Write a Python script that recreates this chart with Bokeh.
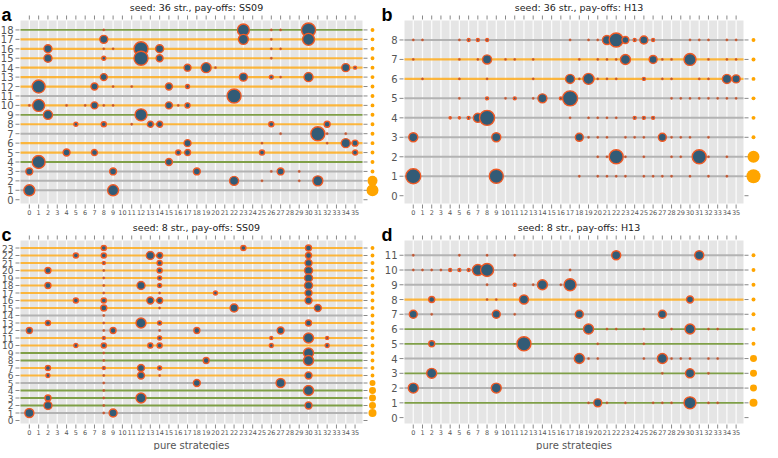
import math
from bokeh.plotting import figure
from bokeh.layouts import gridplot
from bokeh.models import Range1d
from bokeh.core.properties import value
from bokeh.embed import file_html
from bokeh.resources import INLINE

strategies = list(range(36))

# ---------------- panel a ----------------
a_title = "seed: 36 str., pay-offs: SS09"
a_nrows = 18
a_line_rows = list(range(1, 19))
a_line_kinds = ["grey", "grey", "grey", "green", "orange", "orange", "grey", "orange", "green",
                "orange", "grey", "orange", "orange", "orange", "orange", "orange", "orange", "green"]
a_pt_row = [18, 18, 17, 17, 17, 16, 16, 16, 15, 15, 15, 15, 14, 14, 14, 14,
            13, 13, 13, 13, 12, 12, 12, 12, 11, 10, 10, 10, 10, 9, 9,
            8, 8, 8, 8, 8, 8, 7, 6, 6, 6, 5, 5, 5, 5, 5, 5, 4, 4, 3, 3, 3, 3, 2, 2, 1, 1]
a_pt_col = [23, 30, 8, 23, 30, 2, 12, 14, 2, 8, 12, 14, 17, 19, 34, 35,
            8, 23, 26, 30, 1, 7, 15, 17, 22, 1, 7, 15, 17, 2, 12,
            5, 8, 13, 14, 26, 32, 31, 17, 34, 35, 4, 7, 16, 17, 25, 35, 1, 15, 0, 9, 18, 27, 22, 31, 0, 9]
a_pt_val = [0.56, 0.77, 0.25, 0.39, 0.56, 0.25, 0.77, 0.25, 0.25, 0.06, 0.77, 0.19, 0.19, 0.39, 0.25, 0.035,
            0.19, 0.25, 0.06, 0.32, 0.66, 0.19, 0.19, 0.06, 0.77, 0.56, 0.19, 0.19, 0.1, 0.32, 0.56,
            0.06, 0.1, 0.14, 0.14, 0.1, 0.14, 0.77, 0.19, 0.32, 0.14, 0.19, 0.14, 0.1, 0.14, 0.1, 0.1,
            0.66, 0.19, 0.19, 0.19, 0.19, 0.19, 0.32, 0.39, 0.47, 0.47]
a_tiny_row = [18, 18, 18, 17, 16, 16, 16, 16, 15, 14, 13, 12, 12, 10, 10, 10, 10, 10, 10,
              8, 7, 7, 7, 6, 6, 3, 3, 2, 2]
a_tiny_col = [8, 26, 27, 26, 8, 9, 26, 27, 26, 20, 27, 9, 11, 0, 4, 6, 8, 9, 16,
              11, 27, 32, 34, 25, 32, 26, 29, 25, 29]
a_side_val = [0.56, 0.39] + [0.06] * 16

# ---------------- panel b ----------------
b_title = "seed: 36 str., pay-offs: H13"
b_nrows = 8
b_line_rows = list(range(1, 9))
b_line_kinds = ["grey", "grey", "grey", "grey", "grey", "orange", "orange", "grey"]
b_pt_row = [8, 8, 8, 8, 8, 8, 8, 8, 8, 7, 7, 7, 7, 6, 6, 6, 6, 6,
            5, 5, 5, 5, 5, 4, 4, 4, 4, 4, 4, 4, 4, 3, 3, 3, 3, 2, 2, 1, 1]
b_pt_col = [6, 7, 8, 21, 22, 23, 24, 25, 26, 8, 23, 26, 30, 17, 19, 25, 34, 35,
            8, 11, 14, 16, 17, 4, 5, 6, 7, 8, 24, 25, 26, 0, 9, 18, 27, 22, 31, 0, 9]
b_pt_val = [0.035, 0.035, 0.035, 0.32, 0.77, 0.19, 0.035, 0.25, 0.035, 0.32, 0.39, 0.25, 0.56,
            0.32, 0.47, 0.035, 0.32, 0.25,
            0.035, 0.035, 0.32, 0.035, 0.88, 0.02, 0.02, 0.035, 0.32, 0.88, 0.035, 0.035, 0.035,
            0.32, 0.32, 0.25, 0.25, 0.77, 0.77, 0.88, 0.77]
b_tiny_row = [8] * 11 + [7] * 15 + [6] * 12 + [5] * 11 + [4] * 5 + [3] * 10 + [2] * 8 + [1] * 12
b_tiny_col = [0, 1, 5, 17, 19, 20, 30, 31, 32, 34, 35,
              0, 5, 7, 10, 11, 13, 18, 20, 21, 22, 27, 28, 32, 34, 35,
              1, 5, 8, 13, 18, 20, 21, 22, 27, 28, 31, 32,
              5, 10, 13, 28, 29, 30, 31, 32, 33, 34, 35,
              17, 19, 20, 21, 22,
              19, 20, 21, 23, 24, 25, 28, 29, 30, 32,
              20, 21, 23, 25, 28, 29, 32, 34,
              18, 20, 21, 22, 23, 25, 26, 27, 28, 30, 32, 34]
b_side_val = [0.77, 0.56, 0.06, 0.06, 0.06, 0.06, 0.06, 0.06]

# ---------------- panel c ----------------
c_title = "seed: 8 str., pay-offs: SS09"
c_nrows = 23
c_line_rows = list(range(1, 24))
c_line_kinds = ["grey", "green", "green", "green", "grey", "orange", "orange", "green", "green",
                "orange", "orange", "grey", "orange", "grey", "orange", "orange", "orange", "orange",
                "orange", "orange", "orange", "orange", "orange"]
c_pt_row = [23, 23, 23, 22, 22, 22, 22, 22, 21, 21, 21, 20, 20, 20, 19, 19, 18, 18, 18, 18,
            17, 17, 16, 16, 16, 16, 16, 15, 15, 15, 13, 13, 13, 13, 12, 12, 12, 12,
            11, 11, 11, 11, 11, 10, 10, 10, 10, 10, 10, 9, 8, 8, 7, 7, 7, 7, 6, 6, 6,
            5, 5, 4, 3, 3, 2, 2, 1, 1]
c_pt_col = [8, 23, 30, 5, 8, 13, 14, 30, 8, 14, 30, 2, 14, 30, 14, 30, 2, 12, 14, 30,
            20, 30, 5, 8, 13, 14, 30, 8, 22, 31, 2, 12, 14, 30, 0, 9, 18, 27,
            8, 14, 26, 30, 32, 5, 8, 13, 14, 26, 32, 30, 19, 30, 2, 8, 12, 14, 2, 12, 30,
            18, 27, 30, 2, 12, 2, 30, 0, 9]
c_pt_val = [0.1, 0.1, 0.14, 0.1, 0.1, 0.25, 0.14, 0.14, 0.035, 0.1, 0.19, 0.14, 0.1, 0.25,
            0.06, 0.25, 0.14, 0.25, 0.06, 0.25,
            0.06, 0.19, 0.1, 0.1, 0.19, 0.14, 0.19, 0.14, 0.25, 0.19, 0.1, 0.39, 0.06, 0.14,
            0.14, 0.14, 0.14, 0.19,
            0.035, 0.06, 0.035, 0.39, 0.035, 0.06, 0.1, 0.1, 0.1, 0.06, 0.06, 0.39, 0.14, 0.39,
            0.1, 0.035, 0.19, 0.06, 0.06, 0.19, 0.19,
            0.19, 0.32, 0.39, 0.14, 0.39, 0.25, 0.19, 0.32, 0.25]
c_tiny_row = [20, 19, 18, 17, 14, 13, 12, 9, 8, 6, 5, 4, 3, 2, 1, 17, 15, 12, 6]
c_tiny_col = [8, 8, 8, 8, 8, 8, 8, 8, 8, 8, 8, 8, 8, 8, 8, 14, 14, 14, 14]
c_side_val = [0.25, 0.19, 0.19, 0.19, 0.14] + [0.06] * 18

# ---------------- panel d ----------------
d_title = "seed: 8 str., pay-offs: H13"
d_nrows = 11
d_line_rows = list(range(1, 12))
d_line_kinds = ["green", "grey", "green", "grey", "green", "green", "grey", "orange", "grey", "grey", "grey"]
d_pt_row = [11, 11, 10, 10, 10, 10, 10, 9, 9, 9, 8, 8, 8, 7, 7, 7, 7, 6, 6, 5, 5, 4, 4, 3, 3, 2, 2, 1, 1]
d_pt_col = [22, 31, 4, 5, 6, 7, 8, 11, 14, 17, 2, 12, 30, 0, 9, 18, 27, 19, 30, 2, 12, 18, 27, 2, 30, 0, 9, 20, 30]
d_pt_val = [0.32, 0.32, 0.035, 0.035, 0.035, 0.47, 0.66, 0.035, 0.39, 0.56, 0.14, 0.32, 0.19,
            0.25, 0.25, 0.25, 0.25, 0.39, 0.39, 0.14, 0.77, 0.39, 0.39, 0.39, 0.32, 0.39, 0.39,
            0.25, 0.56]
d_tiny_row = [11, 11, 11, 11, 10, 10, 10, 10, 10, 9, 9, 9, 8, 8, 7, 7,
              6, 6, 6, 6, 6, 6, 5, 5, 4, 4, 4, 4, 4, 4, 4, 4, 3, 3,
              1, 1, 1, 1, 1, 1, 1, 1]
d_tiny_col = [0, 5, 8, 11, 0, 1, 2, 3, 17, 8, 13, 16, 8, 9, 2, 11,
              21, 22, 25, 28, 32, 33, 20, 25, 19, 20, 25, 28, 29, 30, 32, 33, 27, 32,
              19, 21, 23, 26, 27, 28, 32, 33]
d_side_val = [0.25, 0.19, 0.19, 0.19, 0.06, 0.06, 0.06, 0.06, 0.06, 0.06, 0.06]

LINE_STYLE = {
    "orange": dict(line_color="#ffad1f", line_width=2.2, line_alpha=0.85),
    "green": dict(line_color="#7f9f47", line_width=1.8, line_alpha=1.0),
    "grey": dict(line_color="#b3b3b3", line_width=2.0, line_alpha=1.0),
}
FONT = value("DejaVu Sans")
TICK_COLOR = "#888888"
LABEL_COLOR = "#555555"


def make_panel(letter, title, nrows, line_rows, line_kinds, pt_row, pt_col, pt_val,
               tiny_row, tiny_col, side_val, width, height, g_left, g_right, g_top, g_bottom,
               xlabel, ylabel_size):
    # data extent of the grey plotting area
    xmin = min(strategies) - 0.95
    xmax = max(strategies) + 0.8
    ymin, ytop = -0.4, nrows + 1
    sx = (g_right - g_left) / (xmax - xmin)
    sy = (g_bottom - g_top) / (ytop - ymin)

    def X(px):  # canvas pixel -> data x
        return xmin + (px - g_left) / sx

    def Y(py):  # canvas pixel -> data y
        return ytop - (py - g_top) / sy

    p = figure(width=width, height=height, x_range=Range1d(X(0), X(width)),
               y_range=Range1d(Y(height), Y(0)), x_axis_location=None, y_axis_location=None,
               output_backend="svg", toolbar_location=None, min_border=0,
               min_border_left=0, min_border_right=0, min_border_top=0, min_border_bottom=0,
               background_fill_color="white", border_fill_color="white", outline_line_color=None)
    p.grid.grid_line_color = None

    # grey plotting area and light vertical grid lines
    p.quad(left=[xmin], right=[xmax], bottom=[ymin], top=[ytop], fill_color="#e5e5e5", line_color=None)
    n = len(strategies)
    p.segment(x0=strategies, x1=strategies, y0=[ymin] * n, y1=[ytop] * n,
              line_color="white", line_alpha=0.85, line_width=1.3)

    yticks = list(range(0, nrows + 1))
    m = len(yticks)
    # tick marks on all four sides
    p.segment(x0=strategies, x1=strategies, y0=[Y(g_top - 1)] * n, y1=[Y(g_top - 5)] * n,
              line_color=TICK_COLOR, line_width=1)
    p.segment(x0=strategies, x1=strategies, y0=[Y(g_bottom + 1)] * n, y1=[Y(g_bottom + 5)] * n,
              line_color=TICK_COLOR, line_width=1)
    p.segment(x0=[X(g_left - 5)] * m, x1=[X(g_left - 1)] * m, y0=yticks, y1=yticks,
              line_color=TICK_COLOR, line_width=1)
    p.segment(x0=[X(g_right + 1)] * m, x1=[X(g_right + 5)] * m, y0=yticks, y1=yticks,
              line_color=TICK_COLOR, line_width=1)

    # tick labels
    p.text(x=[X(g_left - 7)] * m, y=yticks, text=[str(t) for t in yticks], text_font=FONT,
           text_font_size=ylabel_size, text_color=LABEL_COLOR, text_align="right",
           text_baseline="middle")
    p.text(x=strategies, y=[Y(g_bottom + 9)] * n, text=[str(s) for s in strategies], text_font=FONT,
           text_font_size="6.5px", text_color=LABEL_COLOR, text_align="center", text_baseline="middle")
    if xlabel:
        p.text(x=[X((g_left + g_right) / 2)], y=[Y(g_bottom + 22)], text=[xlabel], text_font=FONT,
               text_font_size="10px", text_color=LABEL_COLOR, text_align="center",
               text_baseline="middle")
    # title and panel letter
    p.text(x=[X((g_left + g_right) / 2 + 5)], y=[Y(g_top - 13)], text=[title], text_font=FONT,
           text_font_size="9.5px", text_color="#222222", text_align="center", text_baseline="middle")
    p.text(x=[X(1)], y=[Y(g_top - 6)], text=[letter], text_font=value("Liberation Sans"),
           text_font_style="bold", text_font_size="18px", text_color="black",
           text_align="left", text_baseline="alphabetic")

    # row lines
    for kind in ("grey", "green", "orange"):
        rows = [r for r, k in zip(line_rows, line_kinds) if k == kind]
        if rows:
            p.segment(x0=[xmin] * len(rows), x1=[xmax] * len(rows), y0=rows, y1=rows, **LINE_STYLE[kind])

    # tiny values
    if tiny_row:
        p.scatter(x=tiny_col, y=tiny_row, size=2.3, fill_color="#b5502e", line_color="#d9582c",
                  line_width=0.5, alpha=0.9)
    # circles
    sizes = [16 * math.sqrt(v) for v in pt_val]
    p.scatter(x=pt_col, y=pt_row, size=sizes, fill_color="#325b76", line_color="#ef5a25",
              line_width=1.4)

    # per-row side dots
    ssizes = [16 * math.sqrt(v) for v in side_val]
    p.scatter(x=[X(g_right + 10)] * len(side_val), y=line_rows, size=ssizes, fill_color="#ffa500",
              line_color=None)
    return p


pa = make_panel("a", a_title, a_nrows, a_line_rows, a_line_kinds, a_pt_row, a_pt_col, a_pt_val,
                a_tiny_row, a_tiny_col, a_side_val, 380, 220, 20, 362, 20, 203, None, "10px")
pb = make_panel("b", b_title, b_nrows, b_line_rows, b_line_kinds, b_pt_row, b_pt_col, b_pt_val,
                b_tiny_row, b_tiny_col, b_side_val, 382, 220, 24, 363, 20, 203, None, "10px")
pc = make_panel("c", c_title, c_nrows, c_line_rows, c_line_kinds, c_pt_row, c_pt_col, c_pt_val,
                c_tiny_row, c_tiny_col, c_side_val, 380, 230, 20, 362, 20, 203, "pure strategies", "9px")
pd = make_panel("d", d_title, d_nrows, d_line_rows, d_line_kinds, d_pt_row, d_pt_col, d_pt_val,
                d_tiny_row, d_tiny_col, d_side_val, 382, 230, 24, 363, 20, 203, "pure strategies", "10px")

grid = gridplot([[pa, pb], [pc, pd]], toolbar_location=None)
open("out.html", "w").write(file_html(grid, INLINE))
